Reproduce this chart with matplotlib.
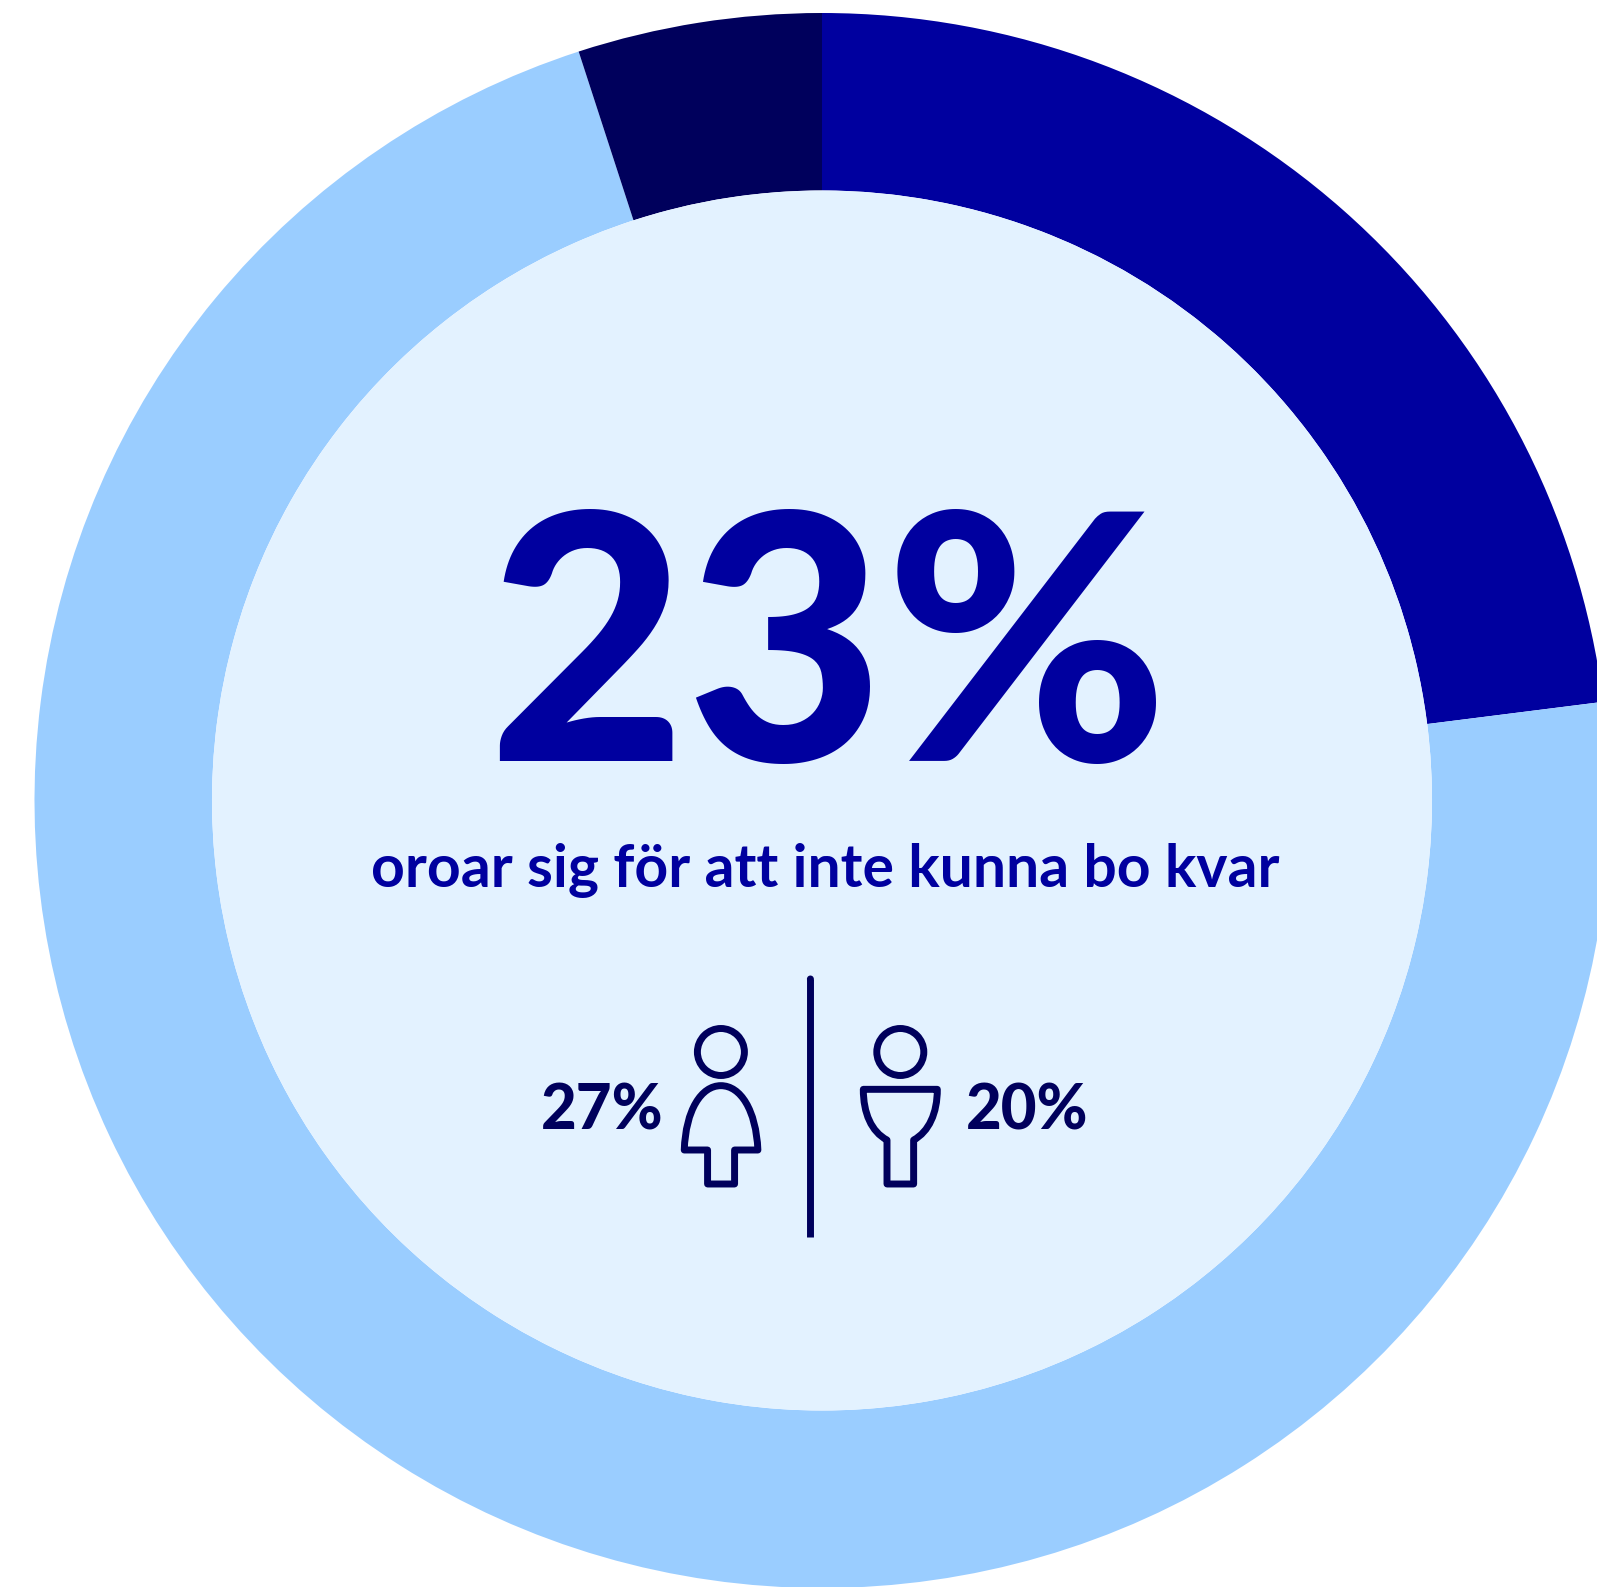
import matplotlib
matplotlib.use("Agg")
import matplotlib.pyplot as plt
from matplotlib.patches import Circle, PathPatch
from matplotlib.path import Path

W, H = 1597, 1587

# share of respondents per ring segment, clockwise from twelve o'clock
segments = [23, 72, 5]
segment_colors = ["#00009F", "#9ACDFF", "#00005C"]

headline = "23%"
subtitle = "oroar sig för att inte kunna bo kvar"
women_label = "27%"
men_label = "20%"

DARK = "#00009F"
NAVY = "#00005C"
CX, CY = 822, 800.5
R_OUT, R_IN = 787.5, 610


def icon_xy(x, y):
    # icons were sketched on a 2.703 x 3 grid
    return 520 + x / 2.703, 960 + y / 3


def outline(parts, closed=True):
    verts, codes = [], []
    for code, pts in parts:
        for p in pts:
            verts.append(icon_xy(*p))
            codes.append(code)
    if closed:
        verts.append(verts[0])
        codes.append(Path.CLOSEPOLY)
    return Path(verts, codes)


fig = plt.figure(figsize=(W / 100, H / 100), dpi=100, facecolor="white")

# ring, in pixel units around its own centre
ax = fig.add_axes([0, 0, 1, 1])
ax.pie(segments, colors=segment_colors, startangle=90, counterclock=False,
       radius=R_OUT, wedgeprops=dict(width=R_OUT - R_IN, linewidth=0))
ax.set_xlim(-CX, W - CX)
ax.set_ylim(-(H - CY), CY)
ax.add_patch(Circle((0, 0), R_IN, facecolor="#E3F2FF", edgecolor="none", zorder=3))

# everything on top of the ring uses image-style pixel coordinates
top = fig.add_axes([0, 0, 1, 1], facecolor="none")
top.set_xlim(0, W)
top.set_ylim(H, 0)
top.axis("off")

top.text(827.5, 761.5, headline, color=DARK, fontsize=247, family="Lato",
         fontweight=900, ha="center", va="baseline")
top.text(825.5, 886.7, subtitle, color=DARK, fontsize=42.4, family="Lato",
         fontweight=700, ha="center", va="baseline")
top.text(602.5, 1130, women_label, color=NAVY, fontsize=44.5, family="Lato",
         fontweight=900, ha="center", va="baseline")
top.text(1027.5, 1130, men_label, color=NAVY, fontsize=44.5, family="Lato",
         fontweight=900, ha="center", va="baseline")

# divider between the two groups
top.plot([810.4, 810.4], [979, 1236.7], color=NAVY, lw=5.0, solid_capstyle="butt")
top.add_patch(Circle((810.4, 979), 3.47, facecolor=NAVY, edgecolor="none"))

body_style = dict(facecolor="none", edgecolor=NAVY, lw=5.0, joinstyle="round")

for hx in (720.9, 900.3):
    top.add_patch(Circle((hx, 1052), 23.5, **body_style))

women_body = outline([
    (Path.MOVETO, [(543, 377)]),
    (Path.CURVE4, [(596, 377), (638, 450), (643, 570)]),
    (Path.LINETO, [(580, 570), (580, 672), (507, 672), (507, 570), (444, 570)]),
    (Path.CURVE4, [(448, 450), (490, 377), (543, 377)]),
])
men_body = outline([
    (Path.MOVETO, [(928, 388)]),
    (Path.LINETO, [(1128, 388)]),
    (Path.CURVE4, [(1128, 460), (1105, 515), (1064, 540)]),
    (Path.LINETO, [(1064, 672), (992, 672), (992, 540)]),
    (Path.CURVE4, [(950, 515), (928, 460), (928, 388)]),
])
top.add_patch(PathPatch(women_body, **body_style))
top.add_patch(PathPatch(men_body, **body_style))

fig.savefig("out.png", dpi=100, facecolor="white")
